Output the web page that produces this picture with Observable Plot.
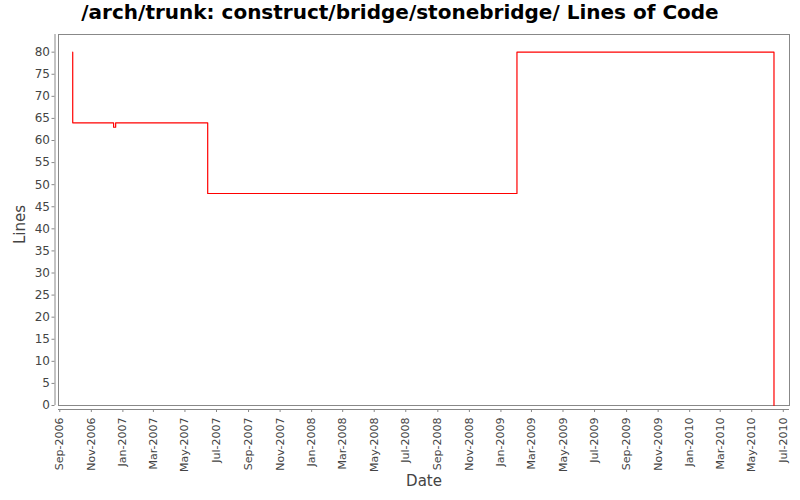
<!DOCTYPE html>
<html>
<head>
<meta charset="utf-8">
<script src="https://cdn.jsdelivr.net/npm/d3@7"></script>
<script src="https://cdn.jsdelivr.net/npm/@observablehq/plot@0.6"></script>
<style>
  html, body { margin: 0; padding: 0; background: #fff; }
  #title { height: 30px; line-height: 28px; text-align: center; font: bold 20px "DejaVu Sans", sans-serif; color: #000; width: 800px; }
</style>
</head>
<body>
<div id="title">/arch/trunk: construct/bridge/stonebridge/ Lines of Code</div>
<div id="chart"></div>
<script>
const dates = ["2006-09-26", "2006-09-26", "2006-12-14", "2006-12-18", "2007-06-14", "2009-02-01", "2010-06-13"];
const lines = [80, 64, 63, 64, 48, 80, 0];
const xDomain = ["2006-08-29T12:00Z", "2010-07-13T00:00Z"];
const yDomain = [0, 84];
const yTicks = d3.range(0, 81, 5);
const tickStart = "2006-09-01";
const tickEnd = "2010-07-01";

const data = dates.map((d, i) => ({date: new Date(d + "T00:00Z"), loc: lines[i]}));
const xd = xDomain.map(d => new Date(d));
const xTicks = d3.utcMonth.every(2).range(new Date(tickStart + "T00:00Z"), new Date(tickEnd + "T00:00:01Z"));
const fmt = d3.utcFormat("%b-%Y");

const chart = Plot.plot({
  width: 800,
  height: 470,
  marginLeft: 58,
  marginRight: 11,
  marginTop: 4,
  marginBottom: 95,
  style: {fontFamily: "DejaVu Sans, sans-serif", background: "#fff", color: "#444"},
  x: {type: "utc", domain: xd},
  y: {domain: yDomain},
  marks: [
    Plot.frame({stroke: "#888", strokeWidth: 1}),
    Plot.ruleX([xd[0]], {dx: -3.5, stroke: "#888"}),
    Plot.ruleY([yDomain[0]], {dy: 4, stroke: "#888"}),
    Plot.axisY({ticks: yTicks, tickSize: 3, dx: -3.5, tickPadding: 2, fontSize: 12, stroke: "#888", fill: "#444", label: null}),
    Plot.axisX({ticks: xTicks, tickFormat: fmt, tickSize: 3, dy: 4, tickRotate: -90, tickPadding: 5, fontSize: 11, stroke: "#888", fill: "#444", label: null}),
    Plot.text(["Lines"], {frameAnchor: "left", dx: -38, dy: 24, rotate: -90, fontSize: 15, fill: "#444"}),
    Plot.text(["Date"], {frameAnchor: "bottom", dy: 80, fontSize: 15, fill: "#444"}),
    Plot.line(data, {x: "date", y: "loc", curve: "step-after", stroke: "#ff0000", strokeWidth: 1.2})
  ]
});
document.getElementById("chart").appendChild(chart);
</script>
</body>
</html>
